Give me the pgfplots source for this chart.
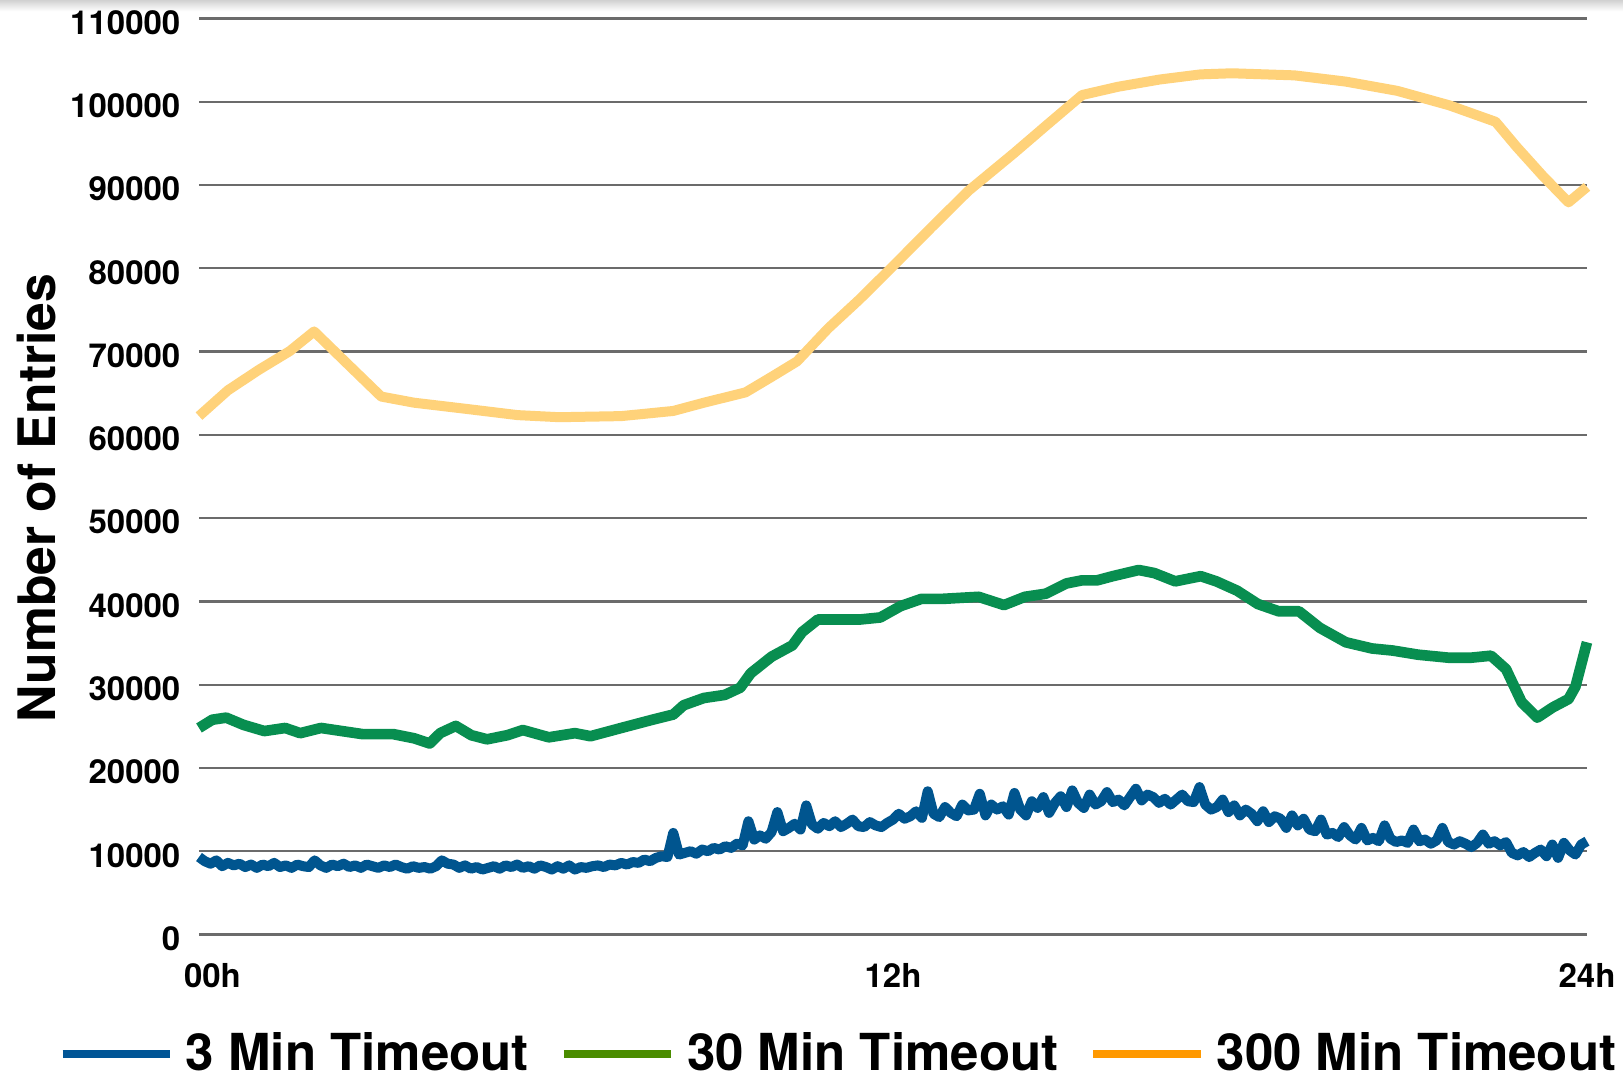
\documentclass[border=0pt]{standalone}
\usepackage{pgfplots}
\pgfplotsset{compat=1.18}
\usepackage{fontspec}
\setmainfont{TeX Gyre Heros}
\definecolor{lblue}{HTML}{00558F}
\definecolor{lgreen}{HTML}{088E50}
\definecolor{lyellow}{HTML}{FFD27A}
\definecolor{gblue}{HTML}{005596}
\definecolor{ggreen}{HTML}{4A8C00}
\definecolor{gorange}{HTML}{FF9900}
\begin{document}
\begin{tikzpicture}
\path[use as bounding box] (-59.7pt,-43.05pt) rectangle (427.2pt,280.35pt);
\shade[top color=black!18, bottom color=white] (-59.7pt,277pt) rectangle (427.2pt,280.35pt);
\begin{axis}[
  at={(0pt,0pt)}, anchor=south west,
  scale only axis, width=416.4pt, height=274.8pt,
  xmin=0, xmax=24, ymin=0, ymax=110000,
  axis line style={draw=none},
  major tick length=0pt,
  ymajorgrids, grid style={line width=0.7pt, color=black!58},
  ytick={0,10000,20000,30000,40000,50000,60000,70000,80000,90000,100000,110000},
  yticklabels={0,10000,20000,30000,40000,50000,60000,70000,80000,90000,100000,110000},
  xtick={0.233,12,24}, xticklabels={00h,12h,24h},
  /pgf/number format/assume math mode=true,
  tick label style={font=\fontsize{9.9}{10}\selectfont\bfseries},
  yticklabel style={anchor=east, inner xsep=0pt, xshift=-5.4pt, yshift=-1.2pt},
  xticklabel style={anchor=north, inner ysep=0pt, yshift=-8.6pt},
  ylabel={Number of Entries},
  ylabel style={at={(axis description cs:-0.1174,0.4765)}, anchor=center, rotate=0, font=\fontsize{15.5}{16}\selectfont\bfseries},
  legend columns=3,
  legend image code/.code={\draw[#1] (0pt,0pt) -- (32.2pt,0pt);},
  legend style={draw=none, fill=none, inner sep=0pt, at={(axis description cs:-0.1019,-0.1305)}, anchor=west,
    font=\fontsize{15.3}{16}\selectfont\bfseries,
    nodes={inner sep=0pt},
    /tikz/every odd column/.append style={column sep=3.5pt},
    /tikz/every even column/.append style={column sep=9.2pt}},
  clip=false,
]
\addlegendimage{line width=2.6pt, color=gblue}
\addlegendimage{line width=2.6pt, color=ggreen}
\addlegendimage{line width=2.6pt, color=gorange}
\legend{3 Min Timeout,30 Min Timeout,300 Min Timeout}

\addplot[forget plot, color=lyellow, line width=3.0pt, line join=round] coordinates {
(0,62250)(0.50,65350)(1.04,67830)(1.57,70060)(1.99,72420)(2.56,68570)(3.15,64600)(3.72,63860)(4.62,63120)(5.51,62370)(6.23,62120)(7.30,62250)(8.20,62870)(8.73,63860)(9.45,65100)(9.90,66960)(10.34,68820)(10.88,72790)(11.42,76260)(11.96,79980)(12.67,84940)(13.30,89280)(14.10,93870)(14.64,97090)(15.27,100810)(15.89,101800)(16.61,102670)(17.32,103290)(17.86,103420)(18.94,103170)(19.83,102420)(20.72,101310)(21.62,99570)(22.42,97590)(22.78,94610)(23.23,91140)(23.68,87920)(24.0,89780)
};

\addplot[forget plot, color=lgreen, line width=3.2pt, line join=round] coordinates {
(0,24800)(0.23,25790)(0.47,26040)(0.77,25170)(1.13,24430)(1.49,24800)(1.75,24180)(2.11,24800)(2.47,24430)(2.83,24060)(3.36,24060)(3.72,23560)(3.99,22940)(4.17,24180)(4.44,25050)(4.71,23930)(4.98,23440)(5.33,23930)(5.60,24550)(6.05,23680)(6.50,24180)(6.77,23810)(7.30,24800)(7.84,25790)(8.20,26410)(8.38,27530)(8.73,28400)(9.09,28770)(9.36,29640)(9.54,31370)(9.90,33360)(10.26,34720)(10.43,36330)(10.70,37820)(10.97,37820)(11.42,37820)(11.78,38070)(12.13,39430)(12.49,40300)(12.85,40300)(13.48,40550)(13.92,39560)(14.28,40550)(14.64,40920)(15.00,42160)(15.27,42530)(15.53,42530)(15.80,43030)(16.25,43770)(16.52,43400)(16.88,42410)(17.32,43030)(17.59,42410)(17.95,41290)(18.31,39680)(18.67,38810)(19.02,38810)(19.38,36830)(19.83,35090)(20.28,34350)(20.64,34100)(21.08,33600)(21.62,33230)(21.98,33230)(22.34,33480)(22.60,31870)(22.87,27900)(23.14,26040)(23.41,27280)(23.68,28270)(23.80,29760)(24.0,35090)
};

\addplot[forget plot, color=lblue, line width=3.0pt, line join=round] coordinates {
(0.0,9300)(0.1,8800)(0.2,8500)(0.3,8900)(0.4,8200)(0.5,8600)(0.6,8300)(0.7,8500)(0.8,8100)(0.9,8400)
(1.0,8000)(1.1,8400)(1.2,8200)(1.3,8600)(1.4,8100)(1.5,8300)(1.6,8000)(1.7,8400)(1.8,8200)(1.9,8100)
(2.0,8900)(2.1,8300)(2.2,8000)(2.3,8400)(2.4,8200)(2.5,8500)(2.6,8100)(2.7,8300)(2.8,8000)(2.9,8400)
(3.0,8200)(3.1,8000)(3.2,8300)(3.3,8100)(3.4,8400)(3.5,8100)(3.6,7900)(3.7,8200)(3.8,8000)(3.9,8100)
(4.0,7900)(4.1,8200)(4.2,8900)(4.3,8500)(4.4,8400)(4.5,8000)(4.6,8300)(4.7,7900)(4.8,8100)(4.9,7800)
(5.0,8000)(5.1,8200)(5.2,7900)(5.3,8300)(5.4,8100)(5.5,8400)(5.6,8000)(5.7,8200)(5.8,7900)(5.9,8300)
(6.0,8100)(6.1,7800)(6.2,8200)(6.3,7900)(6.4,8300)(6.5,7800)(6.6,8100)(6.7,8000)(6.8,8200)(6.9,8300)
(7.0,8100)(7.1,8400)(7.2,8300)(7.3,8600)(7.4,8400)(7.5,8700)(7.6,8600)(7.7,9000)(7.8,8800)(7.9,9200)
(8.0,9400)(8.1,9300)(8.2,12200)(8.3,9600)(8.4,9800)(8.5,10000)(8.6,9700)(8.7,10200)(8.8,10000)(8.9,10400)
(9.0,10200)(9.1,10600)(9.2,10400)(9.3,10900)(9.4,10700)(9.5,13600)(9.6,11400)(9.7,11900)(9.8,11500)(9.9,12300)
(10.0,14700)(10.1,12400)(10.2,12800)(10.3,13300)(10.4,12600)(10.5,15500)(10.6,13200)(10.7,12700)(10.8,13400)(10.9,13000)
(11.0,13600)(11.1,12900)(11.2,13300)(11.3,13800)(11.4,13000)(11.5,12900)(11.6,13500)(11.7,13100)(11.8,12900)(11.9,13400)
(12.0,13800)(12.1,14500)(12.2,13900)(12.3,14200)(12.4,14800)(12.5,14000)(12.6,17200)(12.7,14500)(12.8,14100)(12.9,15300)
(13.0,14600)(13.1,14200)(13.2,15600)(13.3,14900)(13.4,15000)(13.5,16900)(13.6,14300)(13.7,15600)(13.8,15000)(13.9,15400)
(14.0,14400)(14.1,17000)(14.2,15000)(14.3,14300)(14.4,16000)(14.5,15200)(14.6,16500)(14.7,14600)(14.8,15800)(14.9,16600)
(15.0,15300)(15.1,17300)(15.2,15800)(15.3,15200)(15.4,16800)(15.5,15600)(15.6,16000)(15.7,17100)(15.8,15900)(15.9,16200)
(16.0,15500)(16.1,16500)(16.2,17500)(16.3,16100)(16.4,16800)(16.5,16500)(16.6,15800)(16.7,16300)(16.8,15600)(16.9,16200)
(17.0,16800)(17.1,16000)(17.2,15900)(17.3,17700)(17.4,15600)(17.5,15000)(17.6,15300)(17.7,16200)(17.8,14700)(17.9,15500)
(18.0,14300)(18.1,15000)(18.2,14500)(18.3,13600)(18.4,14800)(18.5,13500)(18.6,14200)(18.7,13900)(18.8,12800)(18.9,14300)
(19.0,13100)(19.1,13900)(19.2,12600)(19.3,12400)(19.4,13800)(19.5,12000)(19.6,12200)(19.7,11700)(19.8,12900)(19.9,11900)
(20.0,11400)(20.1,12800)(20.2,11300)(20.3,11600)(20.4,11200)(20.5,13100)(20.6,11500)(20.7,11100)(20.8,11300)(20.9,11000)
(21.0,12600)(21.1,11200)(21.2,11400)(21.3,10900)(21.4,11300)(21.5,12800)(21.6,11100)(21.7,10800)(21.8,11200)(21.9,10900)
(22.0,10500)(22.1,11000)(22.2,12000)(22.3,10900)(22.4,11200)(22.5,10700)(22.6,11100)(22.7,9800)(22.8,9500)(22.9,9900)
(23.0,9300)(23.1,9800)(23.2,10200)(23.3,9400)(23.4,10800)(23.5,9200)(23.6,11000)(23.7,10100)(23.8,9600)(23.9,10800)
(24.0,11200)
};
\end{axis}
\end{tikzpicture}
\end{document}
